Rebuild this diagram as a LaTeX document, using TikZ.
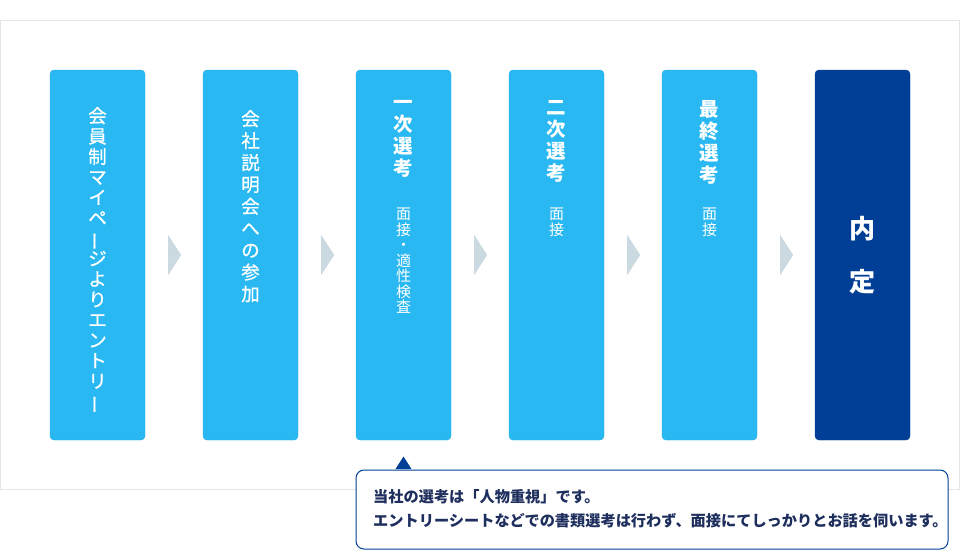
\documentclass[tikz,border=0pt]{standalone}
\usepackage{fontspec}
\setmainfont{Noto Sans CJK JP}
\newfontfamily\medfont{Noto Sans CJK JP}[FakeBold=0.7]
\usepackage{graphicx}
\definecolor{lightblue}{HTML}{29B8F2}
\definecolor{boxedge}{HTML}{25AEE6}
\definecolor{darkblue}{HTML}{003F95}
\definecolor{chevcol}{HTML}{CBD9E1}
\definecolor{framecol}{HTML}{E6E6E6}
\definecolor{navytext}{HTML}{1E2F5E}
\newcommand\tatebar{\rotatebox[origin=c]{90}{ー}}
\begin{document}
\begin{tikzpicture}[x=1pt,y=-1pt,
  stepbox/.style={draw=boxedge, fill=lightblue, rounded corners=4pt, minimum width=95pt, minimum height=370pt, inner sep=0pt},
  vt/.style={text=white, align=center, inner sep=0pt, anchor=north},
  chev/.style={fill=chevcol},
  callbox/.style={draw=darkblue, fill=white, line width=1pt, rounded corners=8pt, minimum width=592pt, minimum height=79pt, inner sep=0pt}]
\useasboundingbox (0,0) rectangle (960,550);
\draw[framecol, line width=1pt] (0.5,20.5) rectangle (959.5,489.5);

\node[stepbox] (b1) at (97.5,255) {};
\node[stepbox] (b2) at (250.5,255) {};
\node[stepbox] (b3) at (403.5,255) {};
\node[stepbox] (b4) at (556.5,255) {};
\node[stepbox] (b5) at (709.5,255) {};
\node[stepbox, fill=darkblue, draw=darkblue] (b6) at (862.5,255) {};

\foreach \a in {b1,b2,b3,b4,b5}{
  \fill[chev] ([xshift=23pt,yshift=20pt]\a.east) -- ([xshift=36pt]\a.east) -- ([xshift=23pt,yshift=-20pt]\a.east) -- cycle;
}

\node[vt, font=\medfont\fontsize{18.5}{20.4}\selectfont] (t1) at (97.5,107) {会\\員\\制\\マ\\イ\\ペ\\\tatebar\\ジ\\よ\\り\\エ\\ン\\ト\\リ\\\tatebar};
\node[vt, font=\medfont\fontsize{18.5}{21.9}\selectfont] (t2) at (250.5,110) {会\\社\\説\\明\\会\\へ\\の\\参\\加};

\node[vt, font=\fontsize{19.5}{22}\selectfont\bfseries] (h3) at (403.5,100) {一\\次\\選\\考};
\node[vt, font=\fontsize{15}{15.5}\selectfont] (s3) at (403.5,208) {面\\接\\・\\適\\性\\検\\査};
\node[vt, font=\fontsize{19.5}{22}\selectfont\bfseries] (h4) at (556.5,100) {二\\次\\選\\考};
\node[vt, font=\fontsize{15}{15.5}\selectfont] (s4) at (556.5,208) {面\\接};
\node[vt, font=\fontsize{19.5}{22}\selectfont\bfseries] (h5) at (709.5,100) {最\\終\\選\\考};
\node[vt, font=\fontsize{15}{15.5}\selectfont] (s5) at (709.5,208) {面\\接};
\node[vt, font=\fontsize{26}{53}\selectfont\bfseries] (t6) at (862.5,216) {内\\定};

\node[callbox] (c) at (652,509.5) {};
\fill[darkblue] ([xshift=40pt,yshift=0.5pt]c.north west) -- ([xshift=48pt,yshift=13pt]c.north west) -- ([xshift=56pt,yshift=0.5pt]c.north west) -- cycle;
\node[anchor=west, align=left, inner sep=0pt, text=navytext, font=\fontsize{15.2}{24}\selectfont\bfseries] (ct) at (373,509) {当社の選考は「人物重視」です。\\エントリーシートなどでの書類選考は行わず、面接にてしっかりとお話を伺います。};
\end{tikzpicture}
\end{document}
